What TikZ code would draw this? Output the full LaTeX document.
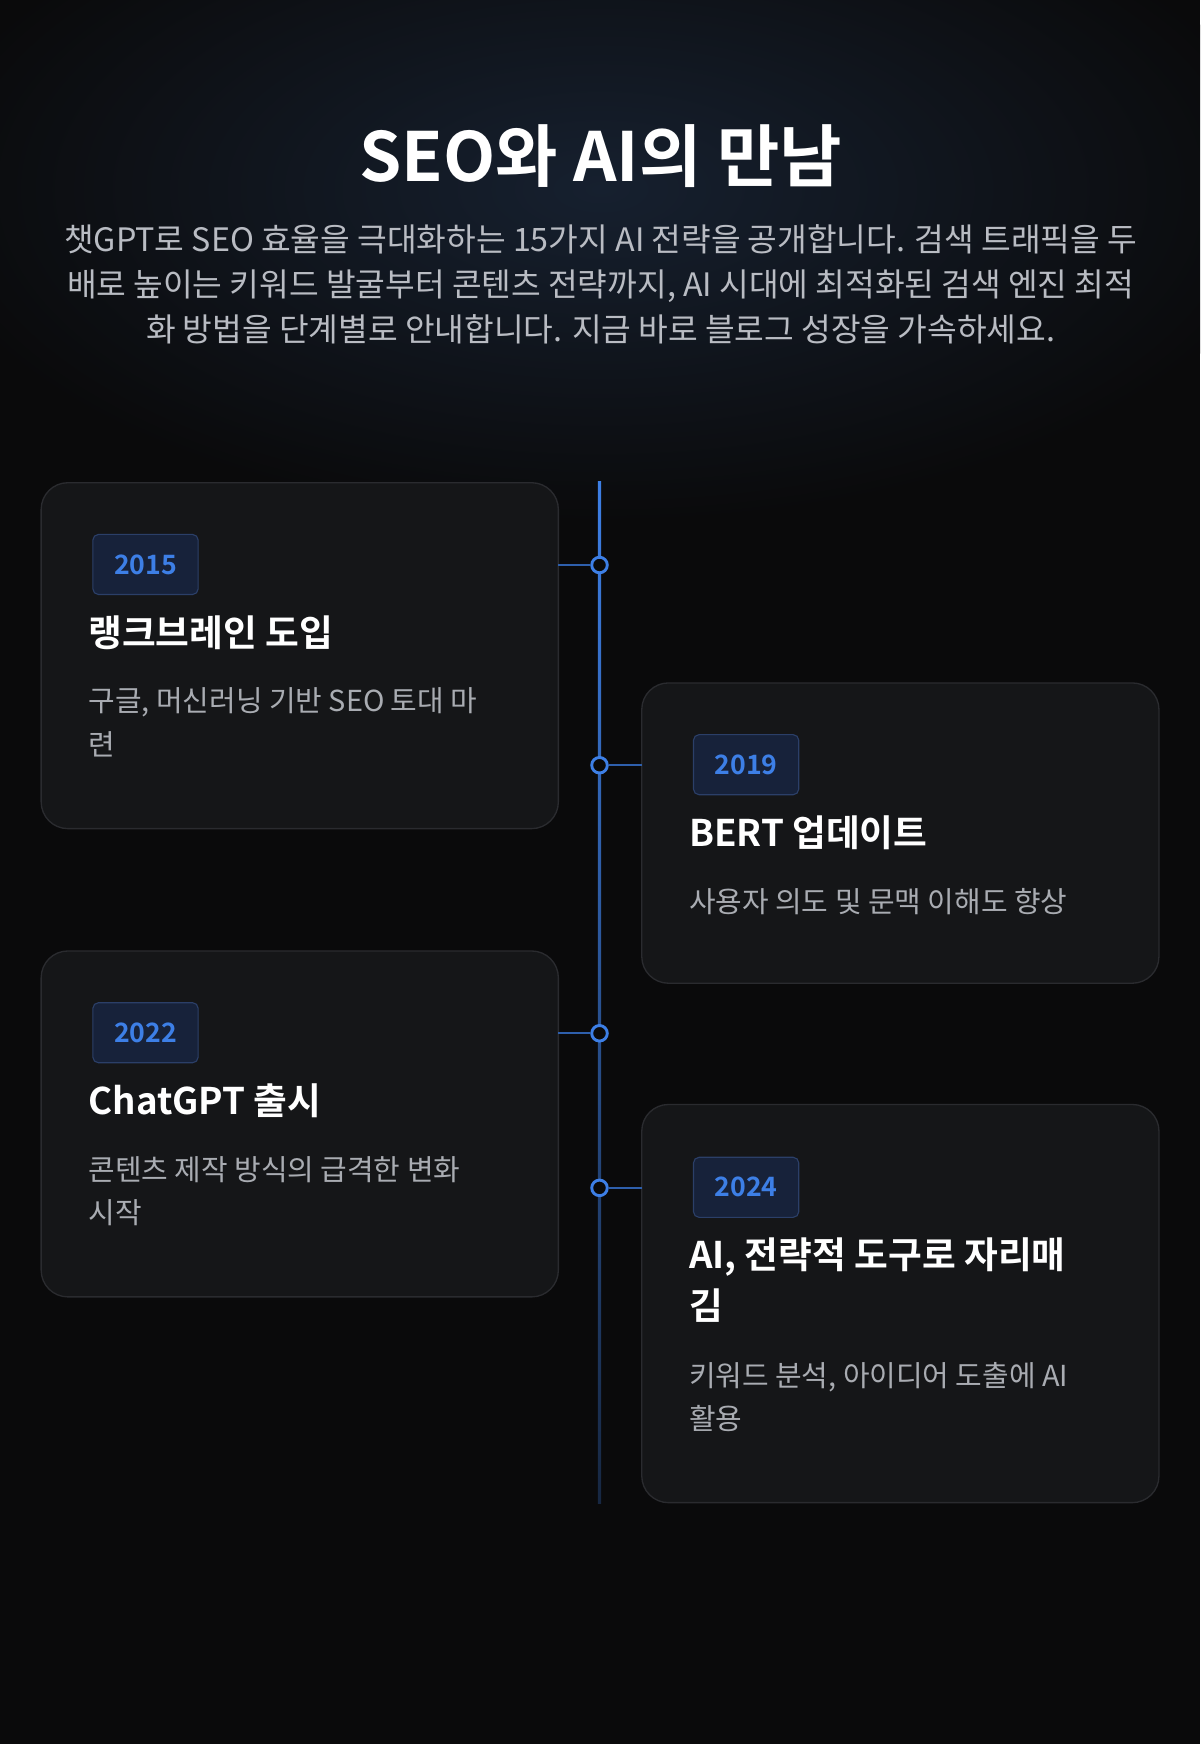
\documentclass[tikz,border=0pt]{standalone}
\usepackage{fontspec}
\setmainfont{Noto Sans CJK KR}
\newfontfamily\kbold{Noto Sans CJK KR Bold}
\definecolor{bgc}{HTML}{0A0A0B}
\definecolor{cardc}{HTML}{151618}
\definecolor{cardb}{HTML}{2A2B2F}
\definecolor{blu}{HTML}{3D7FE6}
\definecolor{badgef}{HTML}{17223A}
\definecolor{badgeb}{HTML}{2B3F68}
\definecolor{subg}{HTML}{B9BCC3}
\definecolor{descg}{HTML}{A9ACB2}
\definecolor{glow}{HTML}{16202F}
\tikzset{
 card/.style={draw=cardb,line width=1.2pt,fill=cardc,rounded corners=24pt},
 badge/.style={draw=badgeb,line width=1pt,fill=badgef,rounded corners=5pt,text=blu,font=\kbold\fontsize{24}{26}\selectfont,inner xsep=19pt,minimum height=54pt,anchor=north west},
 head/.style={text=white,font=\kbold\fontsize{33}{46}\selectfont,anchor=north west,align=left},
 desc/.style={text=descg,font=\fontsize{26}{39}\selectfont,anchor=north west,align=left},
 dotn/.style={circle,draw=blu,line width=2.6pt,fill=bgc,minimum size=14pt,inner sep=0pt},
 conn/.style={draw=blu!75!black,line width=2pt}
}
\begin{document}
\begin{tikzpicture}[x=1pt,y=-1pt]
\fill[bgc] (0,0) rectangle (1079,1568);
\begin{scope}
\clip (0,0) rectangle (1079,1568);
\shade[inner color=glow,outer color=bgc] (540,170) ellipse (620 and 300);
\end{scope}
\useasboundingbox (0,0) rectangle (1079,1568);
\node[text=white,font=\kbold\fontsize{61}{62}\selectfont] (title) at (540,140) {SEO와 AI의 만남};
\node[text=subg,font=\fontsize{29}{40.5}\selectfont,align=center,anchor=north] (sub) at (540,198) {챗GPT로 SEO 효율을 극대화하는 15가지 AI 전략을 공개합니다. 검색 트래픽을 두\\배로 높이는 키워드 발굴부터 콘텐츠 전략까지, AI 시대에 최적화된 검색 엔진 최적\\화 방법을 단계별로 안내합니다. 지금 바로 블로그 성장을 가속하세요.};
% timeline
\shade[top color=blu,bottom color=blu!25!bgc] (537.5,433) rectangle (540.5,1352);
% cards
\draw[card] (37,434) rectangle (502,745);
\draw[card] (577,614) rectangle (1042,884);
\draw[card] (37,855) rectangle (502,1166);
\draw[card] (577,993) rectangle (1042,1351);
\coordinate (c1) at (502,508); \coordinate (c2) at (577,688);
\coordinate (c3) at (502,929); \coordinate (c4) at (577,1068);
\node[dotn] (d1) at (539,508) {};
\node[dotn] (d2) at (539,688) {};
\node[dotn] (d3) at (539,929) {};
\node[dotn] (d4) at (539,1068) {};
\draw[conn] (c1) -- (d1); \draw[conn] (c2) -- (d2);
\draw[conn] (c3) -- (d3); \draw[conn] (c4) -- (d4);
% card 1
\node[badge] (b1) at (83,480) {2015};
\node[head] (h1) at (76,550) {랭크브레인 도입};
\node[desc] (t1) at (76,615) {구글, 머신러닝 기반 SEO 토대 마\\련};
% card 2
\node[badge] (b2) at (623,660) {2019};
\node[head] (h2) at (616,730) {BERT 업데이트};
\node[desc] (t2) at (616,795) {사용자 의도 및 문맥 이해도 향상};
% card 3
\node[badge] (b3) at (83,901) {2022};
\node[head] (h3) at (76,971) {ChatGPT 출시};
\node[desc] (t3) at (76,1036) {콘텐츠 제작 방식의 급격한 변화\\시작};
% card 4
\node[badge] (b4) at (623,1040) {2024};
\node[head] (h4) at (616,1109) {AI, 전략적 도구로 자리매\\김};
\node[desc] (t4) at (616,1221) {키워드 분석, 아이디어 도출에 AI\\활용};
\end{tikzpicture}
\end{document}
